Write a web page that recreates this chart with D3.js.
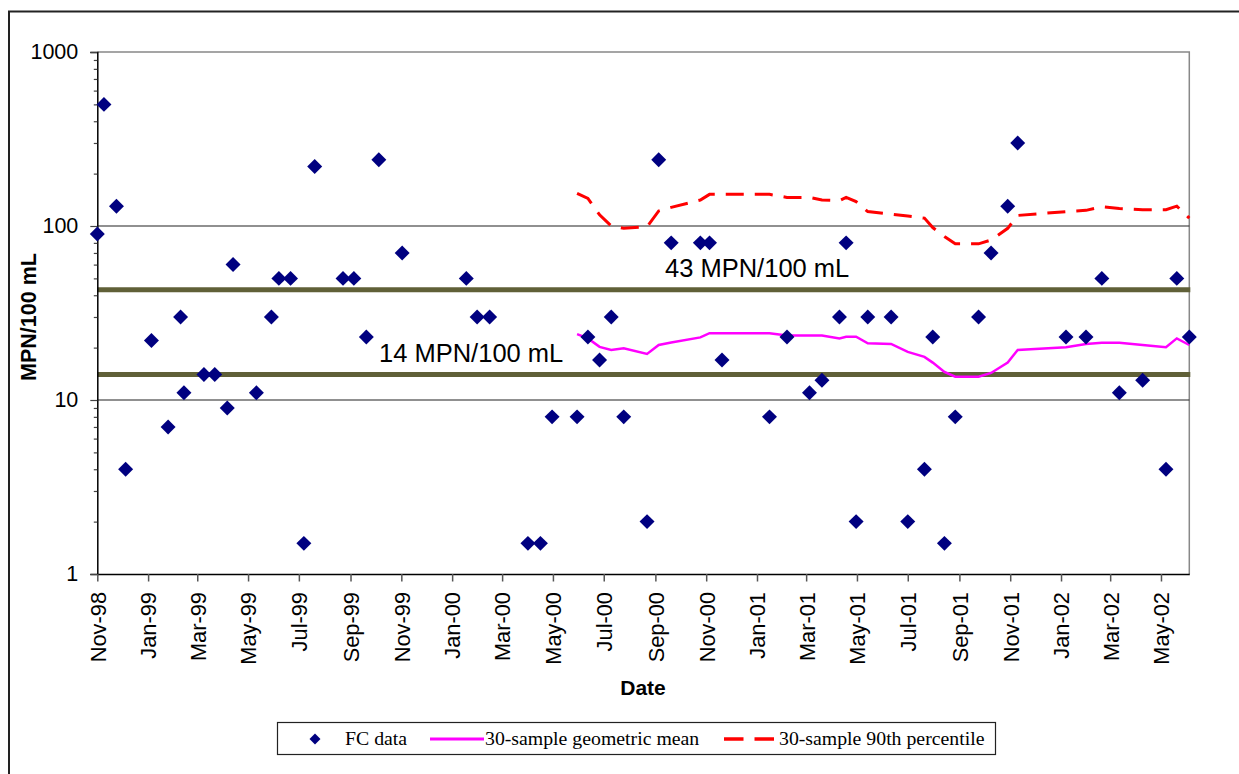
<!DOCTYPE html>
<html>
<head>
<meta charset="utf-8">
<script src="https://cdn.jsdelivr.net/npm/d3@7"></script>
<style>
  body { margin: 0; background: #fff; }
  svg { display: block; font-family: "Liberation Sans", Arial, sans-serif; }
  .legendText { font-family: "Liberation Serif", "Times New Roman", serif; font-size: 19.8px; }
</style>
</head>
<body>
<div id="chart"></div>
<script>
var svgWidth = 1239;
var svgHeight = 774;

// sample dates and FC results (MPN/100 mL)
var sampleDates = [
  "1998-11-01","1998-11-09","1998-11-24","1998-12-05",
  "1999-01-05","1999-01-25","1999-02-09","1999-02-13","1999-03-09","1999-03-22","1999-04-06","1999-04-13",
  "1999-05-11","1999-05-29","1999-06-07","1999-06-21","1999-07-07","1999-07-20","1999-08-23","1999-09-05",
  "1999-09-20","1999-10-05","1999-11-02",
  "2000-01-18","2000-01-31","2000-02-15","2000-04-01","2000-04-16","2000-04-30","2000-05-30","2000-06-12",
  "2000-06-26","2000-07-10","2000-07-25","2000-08-22","2000-09-05","2000-09-20","2000-10-25","2000-11-05",
  "2000-11-20",
  "2001-01-16","2001-02-06","2001-03-05","2001-03-20","2001-04-10","2001-04-18","2001-04-30","2001-05-14",
  "2001-06-11","2001-07-01","2001-07-21","2001-07-31","2001-08-14","2001-08-27","2001-09-24","2001-10-09",
  "2001-10-29","2001-11-10",
  "2002-01-07","2002-01-31","2002-02-19","2002-03-12","2002-04-09","2002-05-07","2002-05-20","2002-06-04"
];
var fcValues = [
  90, 500, 130, 4,
  22, 7, 30, 11, 14, 14, 9, 60, 11, 30, 50, 50, 1.5, 220, 50, 50, 23, 240, 70,
  50, 30, 30, 1.5, 1.5, 8, 8, 23, 17, 30, 8, 2, 240, 80, 80, 80, 17,
  8, 23, 11, 13, 30, 80, 2, 30, 30, 2, 4, 23, 1.5, 8, 30, 70, 130, 300,
  23, 23, 50, 11, 13, 4, 50, 23
];
// rolling stats start at the 30th sample
var statDates = sampleDates.slice(29);
var geoMean = [
  23.9, 22.6, 20.2, 19.4, 19.8, 18.4, 20.7, 21.4, 22.9, 24.2, 24.2, 24.2, 23.5, 23.5, 23.5, 22.6, 23.1, 23.1,
  21.2, 21.0, 18.9, 17.7, 16.4, 14.5, 13.6, 13.6, 14.3, 16.4, 19.4, 20.1, 21.0, 21.3, 21.3, 20.7, 20.1, 22.6, 20.7
];
var pct90 = [
  154, 144, 116, 100, 97, 99, 122, 128, 141, 152, 152, 152, 146, 146, 141, 140, 146, 138,
  121, 117, 114, 111, 98, 87, 79, 79, 83, 97, 115, 121, 123, 129, 126, 124, 124, 130, 111
];
var thresholds = [43, 14];
var thresholdLabels = ["43 MPN/100 mL", "14 MPN/100 mL"];
var yMajor = [1, 10, 100, 1000];
var legendLabels = ["FC data", "30-sample geometric mean", "30-sample 90th percentile"];

var parseDate = d3.utcParse("%Y-%m-%d");
var plotLeft = 97.3, plotRight = 1189.3, plotTop = 52, plotBottom = 574;

var svg = d3.select("#chart")
  .append("svg")
  .attr("width", svgWidth)
  .attr("height", svgHeight);

// outer frame (top and left edges visible)
svg.append("path")
  .attr("d", "M9,774 V11.5 H1239")
  .attr("fill", "none")
  .attr("stroke", "#222")
  .attr("stroke-width", 2);

var scaleX = d3.scaleUtc()
  .domain([parseDate("1998-11-01"), parseDate("2002-06-04")])
  .range([plotLeft, plotRight]);
var scaleY = d3.scaleLog()
  .domain([1, 1000])
  .range([plotBottom, plotTop]);

// plot area border (top / right)
svg.append("path")
  .attr("d", `M${plotLeft},${plotTop} H${plotRight} V${plotBottom}`)
  .attr("fill", "none")
  .attr("stroke", "#888")
  .attr("stroke-width", 1.5);

// gridlines
svg.append("g").selectAll("line")
  .data([10, 100])
  .enter()
  .append("line")
  .attr("x1", plotLeft)
  .attr("x2", plotRight)
  .attr("y1", d => scaleY(d))
  .attr("y2", d => scaleY(d))
  .attr("stroke", "#222")
  .attr("stroke-width", 1.2);

// threshold lines
svg.append("g").selectAll("line")
  .data(thresholds)
  .enter()
  .append("line")
  .attr("x1", plotLeft)
  .attr("x2", plotRight + 1)
  .attr("y1", d => scaleY(d))
  .attr("y2", d => scaleY(d))
  .attr("stroke", "#606038")
  .attr("stroke-width", 5);

svg.append("g").selectAll("text")
  .data(thresholds)
  .enter()
  .append("text")
  .attr("x", (d, i) => i === 0 ? 665 : 379)
  .attr("y", d => scaleY(d) - 13)
  .attr("font-size", 25.5)
  .attr("fill", "#000")
  .text((d, i) => thresholdLabels[i]);

// y axis: majors with labels, minors without
var yaxis = d3.axisLeft(scaleY)
  .tickValues(yMajor)
  .tickFormat(d3.format("d"))
  .tickSize(7)
  .tickPadding(12);
var chartLeft = svg.append("g")
  .attr("transform", `translate(${plotLeft},0)`)
  .call(yaxis);
chartLeft.select(".domain").attr("stroke", "#000").attr("stroke-width", 1.5);
chartLeft.selectAll(".tick line").attr("stroke", "#444").attr("stroke-width", 1.2);
chartLeft.selectAll(".tick text").attr("font-size", 21.5).attr("fill", "#000").attr("font-family", "Liberation Sans, Arial, sans-serif");

var yMinor = [];
yMajor.slice(0, 3).forEach(function(base) {
  for (var k = 2; k <= 9; k++) yMinor.push(base * k);
});
var minorAxis = svg.append("g")
  .attr("transform", `translate(${plotLeft},0)`)
  .call(d3.axisLeft(scaleY).tickValues(yMinor).tickFormat("").tickSize(3.5));
minorAxis.select(".domain").remove();
minorAxis.selectAll(".tick line").attr("stroke", "#444").attr("stroke-width", 1.2);

// x axis
var xaxis = d3.axisBottom(scaleX)
  .ticks(d3.utcMonth.every(2))
  .tickFormat(d3.utcFormat("%b-%y"))
  .tickSize(7.5)
  .tickSizeOuter(0);
var chartBottom = svg.append("g")
  .attr("transform", `translate(0,${plotBottom})`)
  .call(xaxis);
chartBottom.select(".domain").attr("stroke", "#000").attr("stroke-width", 1.5);
chartBottom.selectAll(".tick line").attr("stroke", "#555").attr("stroke-width", 1.5);
chartBottom.selectAll(".tick text")
  .attr("font-size", 21.8)
  .attr("font-family", "Liberation Sans, Arial, sans-serif")
  .attr("fill", "#000")
  .attr("text-anchor", "end")
  .attr("transform", "rotate(-90)")
  .attr("x", -18)
  .attr("y", 0)
  .attr("dy", "0.36em");

// axis titles
svg.append("text")
  .attr("transform", "translate(36,317) rotate(-90)")
  .attr("text-anchor", "middle")
  .attr("font-size", 21.5)
  .attr("font-weight", "bold")
  .text("MPN/100 mL");
svg.append("text")
  .attr("x", 643)
  .attr("y", 695)
  .attr("text-anchor", "middle")
  .attr("font-size", 21)
  .attr("font-weight", "bold")
  .text("Date");

// rolling stat lines
var statLine = function(values) {
  return d3.line()
    .x((d, i) => scaleX(parseDate(statDates[i])))
    .y((d, i) => scaleY(values[i]))(values);
};
svg.append("path")
  .attr("d", statLine(geoMean))
  .attr("fill", "none")
  .attr("stroke", "#ff00ff")
  .attr("stroke-width", 2.5);
svg.append("path")
  .attr("d", statLine(pct90))
  .attr("fill", "none")
  .attr("stroke", "#ff0000")
  .attr("stroke-width", 3)
  .attr("stroke-dasharray", "18,11");

// FC data diamonds
var diamond = d3.symbol().type(d3.symbolSquare).size(112);
svg.append("g").selectAll("path")
  .data(fcValues)
  .enter()
  .append("path")
  .attr("d", diamond)
  .attr("transform", (d, i) => `translate(${scaleX(parseDate(sampleDates[i]))},${scaleY(d)}) rotate(45)`)
  .attr("fill", "#000080");

// legend
var legend = svg.append("g");
legend.append("rect")
  .attr("x", 277.5)
  .attr("y", 722.5)
  .attr("width", 718)
  .attr("height", 32)
  .attr("fill", "#fff")
  .attr("stroke", "#222")
  .attr("stroke-width", 1.2);
legend.append("path")
  .attr("d", d3.symbol().type(d3.symbolSquare).size(60))
  .attr("transform", "translate(315,739) rotate(45)")
  .attr("fill", "#000080");
legend.append("line")
  .attr("x1", 430).attr("x2", 484)
  .attr("y1", 739).attr("y2", 739)
  .attr("stroke", "#ff00ff").attr("stroke-width", 3);
legend.append("line")
  .attr("x1", 724).attr("x2", 774)
  .attr("y1", 739).attr("y2", 739)
  .attr("stroke", "#ff0000").attr("stroke-width", 3.5)
  .attr("stroke-dasharray", "19.5,11");
legend.selectAll("text.legendText")
  .data(legendLabels)
  .enter()
  .append("text")
  .classed("legendText", true)
  .attr("x", (d, i) => [345, 485, 779][i])
  .attr("y", 745)
  .text(d => d);
</script>
</body>
</html>
